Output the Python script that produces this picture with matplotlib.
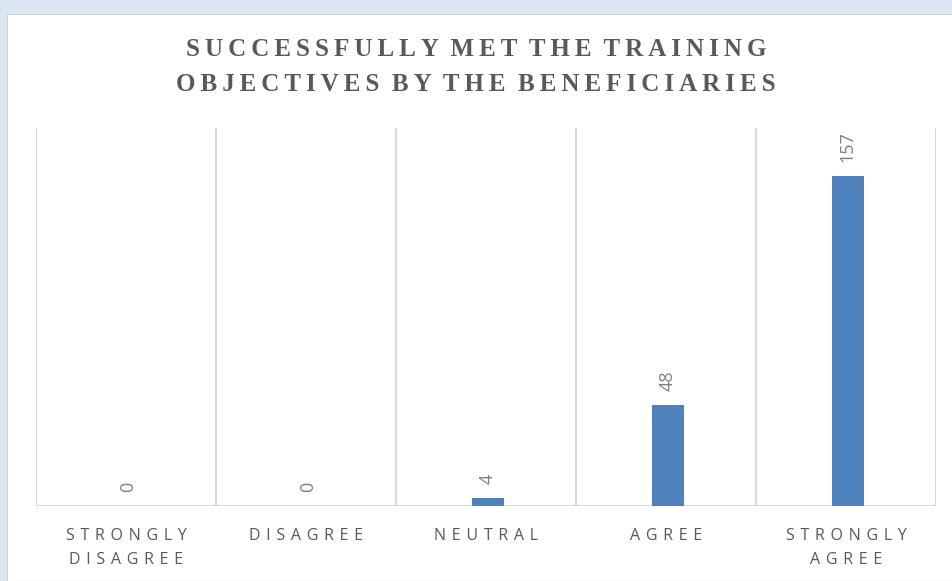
import matplotlib
matplotlib.use("Agg")
import matplotlib.pyplot as plt
from matplotlib.patches import Rectangle

# ------------------------------------------------------------
# Data
# ------------------------------------------------------------
categories = ["STRONGLY\nDISAGREE", "DISAGREE", "NEUTRAL", "AGREE", "STRONGLY\nAGREE"]
counts = [0, 0, 4, 48, 157]
title_lines = ["SUCCESSFULLY MET THE TRAINING", "OBJECTIVES BY THE BENEFICIARIES"]

BAR_COLOR = "#4f81bd"
GRID_COLOR = "#d9d9d9"
TEXT_COLOR = "#595959"
VALUE_COLOR = "#7f7f7f"


def spaced(text, sep=" \u200a"):
    # fake Excel-style letter spacing
    return "\n".join(sep.join(word) for word in text.split("\n"))


def spaced_title(line):
    return "  ".join("\u2009".join(w) for w in line.split(" "))


fig = plt.figure(figsize=(9.52, 5.81), dpi=100)
fig.patch.set_facecolor("#dce6f2")
fig.patches.append(Rectangle((7 / 952, 0), 1, 1 - 14 / 581, transform=fig.transFigure,
                             facecolor="white", edgecolor="#d0d0d0", linewidth=0.8, zorder=-1))

ax = fig.add_axes([36 / 952, 1 - 506 / 581, 900 / 952, 378 / 581])
ax.set_zorder(2)
ax.patch.set_alpha(0)

x = list(range(len(categories)))
ax.bar([xi + 0.01 for xi in x], counts, width=0.18, color=BAR_COLOR, zorder=3)
ax.set_xlim(-0.5, len(categories) - 0.5)
ax.set_ylim(0, 180)

# vertical separators between categories
for b in range(len(categories) + 1):
    ax.axvline(b - 0.5, color=GRID_COLOR, linewidth=1.5, zorder=1)
ax.axhline(0, color=GRID_COLOR, linewidth=1.5, zorder=2)

for s in ax.spines.values():
    s.set_visible(False)
ax.set_yticks([])
ax.set_xticks(x)
ax.set_xticklabels([spaced(c) for c in categories], fontsize=11.5, color=TEXT_COLOR,
                   family=["Open Sans", "DejaVu Sans"], linespacing=1.65)
ax.tick_params(axis="x", length=0, pad=16)

# value labels
for xi, v in zip(x, counts):
    ax.annotate(str(v), (xi + 0.01, v), xytext=(0, 10), textcoords="offset points",
                rotation=90, ha="center", va="bottom", fontsize=13,
                color=VALUE_COLOR, family=["Open Sans", "DejaVu Sans"])

fig.text(0.5, 1 - 67 / 581, "\n".join(spaced_title(l) for l in title_lines),
         ha="center", va="center", fontsize=18, fontweight="bold", color=TEXT_COLOR,
         family=["Liberation Serif", "DejaVu Serif"], linespacing=1.62)

fig.savefig("out.png", dpi=100, facecolor=fig.get_facecolor())
